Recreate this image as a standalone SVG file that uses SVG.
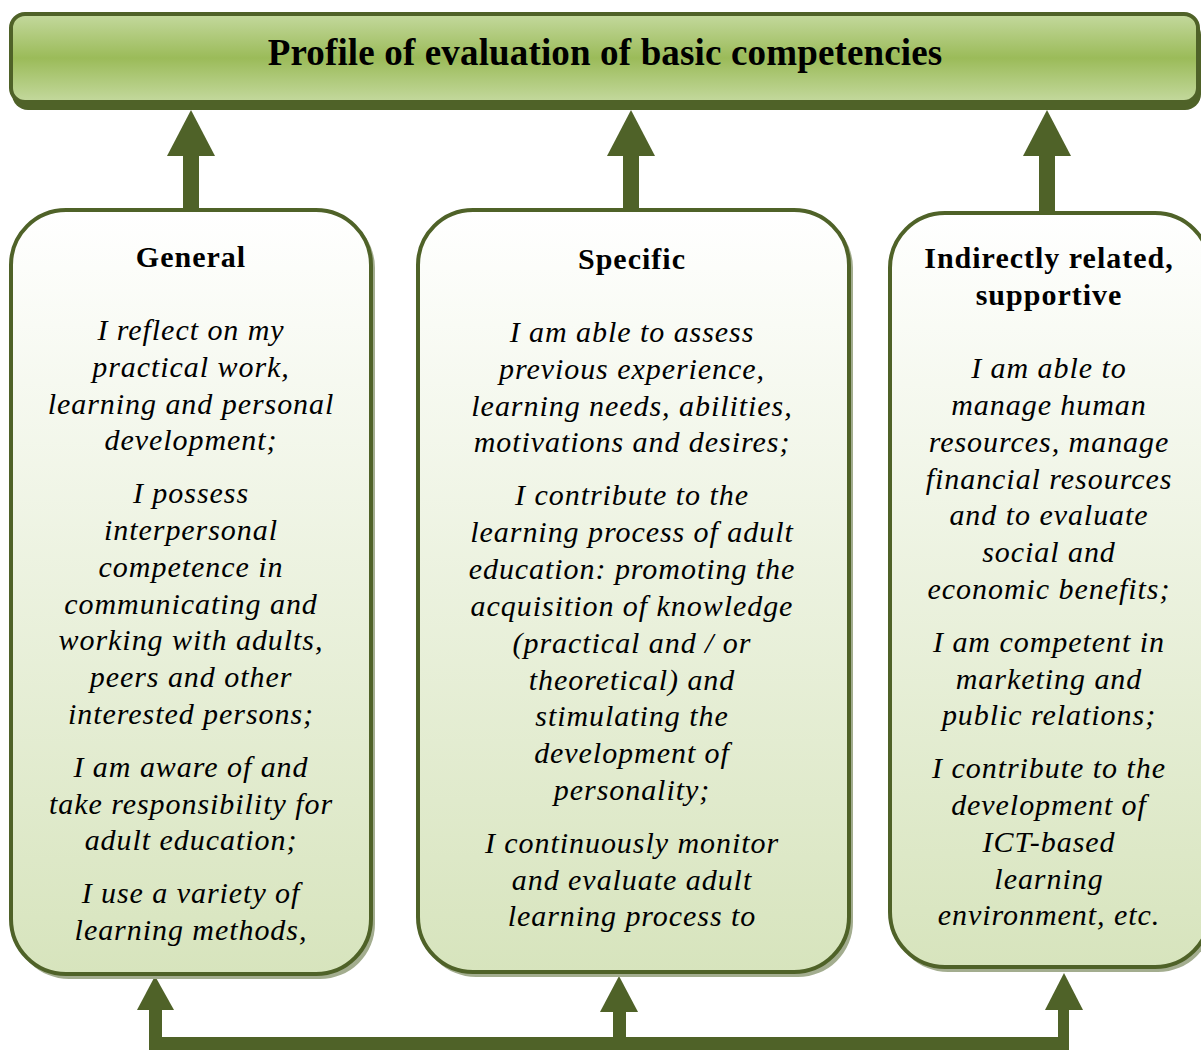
<svg xmlns="http://www.w3.org/2000/svg" width="1201" height="1050" viewBox="0 0 1201 1050">
<defs>
<linearGradient id="hdr" x1="0" y1="0" x2="0" y2="1">
<stop offset="0" stop-color="#c4d99e"/>
<stop offset="0.5" stop-color="#9bbb59"/>
<stop offset="1" stop-color="#c4d99e"/>
</linearGradient>
<linearGradient id="box" x1="0" y1="0" x2="0" y2="1">
<stop offset="0" stop-color="#ffffff"/>
<stop offset="1" stop-color="#d7e4bd"/>
</linearGradient>
<style>
.b{fill:url(#box);stroke:#4f6228;stroke-width:4}
.sh{fill:#a3ad8f}
.h{font-family:"Liberation Serif","Times New Roman",serif;font-weight:bold;font-size:30px;letter-spacing:1px;text-anchor:middle;fill:#000}
.t{font-family:"Liberation Serif","Times New Roman",serif;font-style:italic;font-size:30px;letter-spacing:0.95px;text-anchor:middle;fill:#000}
.c{fill:#4f6228}
</style>
</defs>
<g id="header">
<rect x="12" y="19" width="1189" height="91" rx="16" fill="#4f6228"/>
<rect x="11" y="14" width="1187" height="88" rx="14" fill="url(#hdr)" stroke="#4f6228" stroke-width="4"/>
<text x="605" y="65" class="h" style="font-size:37px;letter-spacing:0.15px">Profile of evaluation of basic competencies</text>
</g>
<g id="connectors">
<rect x="183" y="152" width="16" height="58" class="c"/>
<polygon points="191,110 167,156 215,156" class="c"/>
<rect x="623" y="152" width="16" height="58" class="c"/>
<polygon points="631,110 607,156 655,156" class="c"/>
<rect x="1039" y="152" width="16" height="62" class="c"/>
<polygon points="1047,110 1023,156 1071,156" class="c"/>
<rect x="149" y="1008" width="13" height="42" class="c"/>
<polygon points="155,976 137,1010 174,1010" class="c"/>
<rect x="613" y="1008" width="13" height="30" class="c"/>
<polygon points="619,976 600,1012 638,1012" class="c"/>
<rect x="1058" y="1008" width="11" height="42" class="c"/>
<polygon points="1064,973 1045,1010 1083,1010" class="c"/>
<rect x="149" y="1037" width="920" height="13" class="c"/>
</g>
<g id="general">
<rect x="14" y="213" width="361" height="766" rx="55" class="sh"/>
<rect x="11" y="210" width="360" height="764" rx="55" class="b"/>
<text x="191" y="267" class="h">General</text>
<text class="t"><tspan x="191" y="340">I reflect on my</tspan><tspan x="191" y="377">practical work,</tspan><tspan x="191" y="414">learning and personal</tspan><tspan x="191" y="450">development;</tspan><tspan x="191" y="503">I possess</tspan><tspan x="191" y="540">interpersonal</tspan><tspan x="191" y="577">competence in</tspan><tspan x="191" y="614">communicating and</tspan><tspan x="191" y="650">working with adults,</tspan><tspan x="191" y="687">peers and other</tspan><tspan x="191" y="724">interested persons;</tspan><tspan x="191" y="777">I am aware of and</tspan><tspan x="191" y="814">take responsibility for</tspan><tspan x="191" y="850">adult education;</tspan><tspan x="191" y="903">I use a variety of</tspan><tspan x="191" y="940">learning methods,</tspan></text>
</g>
<g id="specific">
<rect x="421" y="213" width="432" height="764" rx="55" class="sh"/>
<rect x="418" y="210" width="431" height="762" rx="55" class="b"/>
<text x="632" y="269" class="h">Specific</text>
<text class="t"><tspan x="632" y="342">I am able to assess</tspan><tspan x="632" y="379">previous experience,</tspan><tspan x="632" y="416">learning needs, abilities,</tspan><tspan x="632" y="452">motivations and desires;</tspan><tspan x="632" y="505">I contribute to the</tspan><tspan x="632" y="542">learning process of adult</tspan><tspan x="632" y="579">education: promoting the</tspan><tspan x="632" y="616">acquisition of knowledge</tspan><tspan x="632" y="653">(practical and / or</tspan><tspan x="632" y="690">theoretical) and</tspan><tspan x="632" y="726">stimulating the</tspan><tspan x="632" y="763">development of</tspan><tspan x="632" y="800">personality;</tspan><tspan x="632" y="853">I continuously monitor</tspan><tspan x="632" y="890">and evaluate adult</tspan><tspan x="632" y="926">learning process to</tspan></text>
</g>
<g id="supportive">
<rect x="893" y="216" width="320" height="756" rx="55" class="sh"/>
<rect x="890" y="213" width="320" height="754" rx="55" class="b"/>
<text class="h"><tspan x="1049" y="268">Indirectly related,</tspan><tspan x="1049" y="305">supportive</tspan></text>
<text class="t"><tspan x="1049" y="378">I am able to</tspan><tspan x="1049" y="415">manage human</tspan><tspan x="1049" y="452">resources, manage</tspan><tspan x="1049" y="489">financial resources</tspan><tspan x="1049" y="525">and to evaluate</tspan><tspan x="1049" y="562">social and</tspan><tspan x="1049" y="599">economic benefits;</tspan><tspan x="1049" y="652">I am competent in</tspan><tspan x="1049" y="689">marketing and</tspan><tspan x="1049" y="725">public relations;</tspan><tspan x="1049" y="778">I contribute to the</tspan><tspan x="1049" y="815">development of</tspan><tspan x="1049" y="852">ICT-based</tspan><tspan x="1049" y="889">learning</tspan><tspan x="1049" y="925">environment, etc.</tspan></text>
</g>
</svg>
